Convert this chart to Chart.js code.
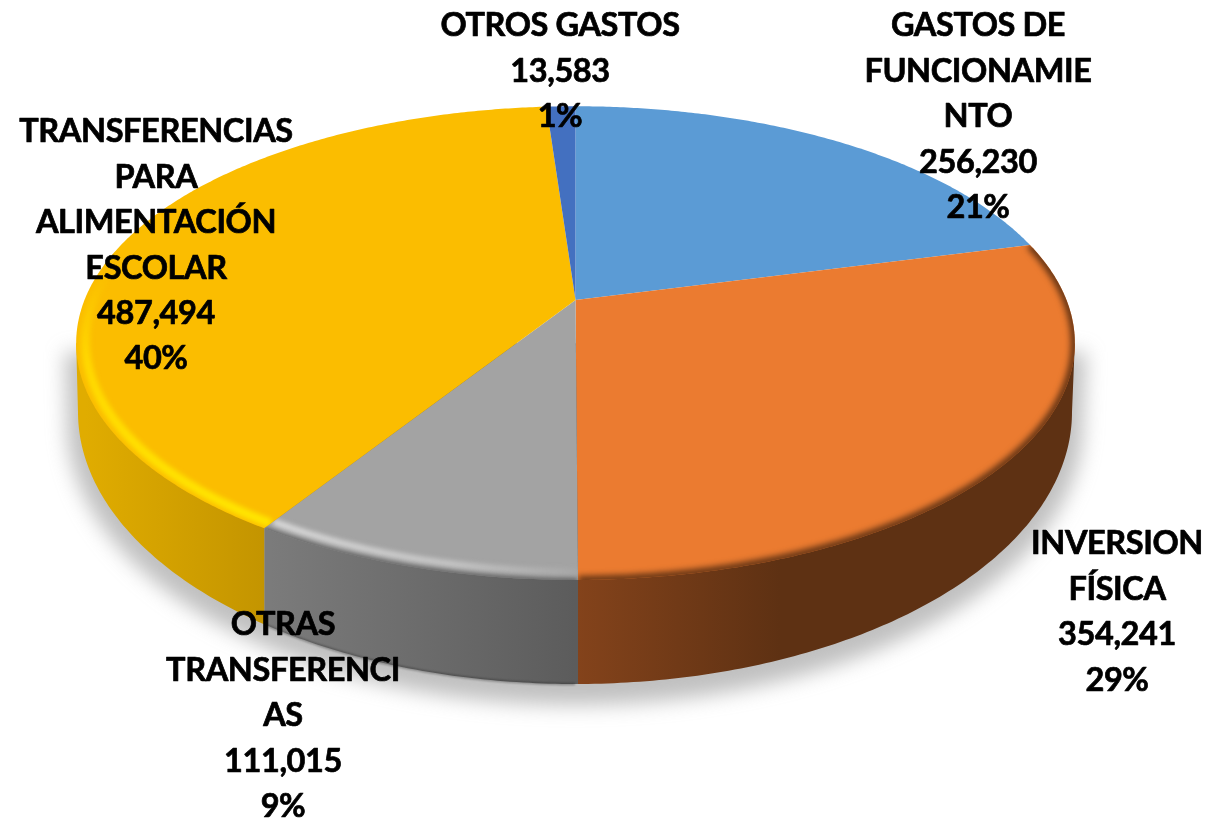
<!DOCTYPE html>
<html><head><meta charset="utf-8">
<style>html,body{margin:0;padding:0;background:#fff}canvas{display:block}</style>
<script src="https://cdn.jsdelivr.net/npm/chart.js@4"></script>
</head><body>
<canvas id="c" width="1218" height="822"></canvas>
<script>
// ---- data ----
const categories = ["GASTOS DE FUNCIONAMIENTO","INVERSION FÍSICA","OTRAS TRANSFERENCIAS","TRANSFERENCIAS PARA ALIMENTACIÓN ESCOLAR","OTROS GASTOS"];
const values = [256230,354241,111015,487494,13583];
const labelLines = [["GASTOS DE","FUNCIONAMIE","NTO"],["INVERSION","FÍSICA"],["OTRAS","TRANSFERENCI","AS"],["TRANSFERENCIAS","PARA","ALIMENTACIÓN","ESCOLAR"],["OTROS GASTOS"]];
const sliceColors = ["#5B9BD5","#EB7B30","#A3A3A3","#FBBD00","#4370C0"];
// ---- layout / style ----
const labelAnchors = [[978,26],[1117,544],[283,625],[156,132],[560,26]];
const LINE = 45.4;
const sideColors = [null,["#84431B","#5E3113",575,780],["#7B7B7B","#5C5C5C",270,575],["#E0AC00","#C39400",85,268],null];
const TOP = {cx:575.5,cy:300,A:491,B:229,k:0.182};
const BASE = {cx:575,cy:412,rx:497,ry:272};
const P = (a,r=1)=>{const x=r*Math.cos(a),y=r*Math.sin(a),d=1-TOP.k*y;return [TOP.cx+TOP.A*x/d,TOP.cy+TOP.B*y/d];};
const Q = a=>[BASE.cx+BASE.rx*Math.cos(a),BASE.cy+BASE.ry*Math.sin(a)];
const TAU=Math.PI*2;

function arcPts(a0,a1,r=1){const n=Math.max(2,Math.ceil((a1-a0)*120)),o=[];for(let i=0;i<=n;i++)o.push(P(a0+(a1-a0)*i/n,r));return o;}
function trace(ctx,pts,cont){pts.forEach((p,i)=>(i||cont)?ctx.lineTo(p[0],p[1]):ctx.moveTo(p[0],p[1]));}
function slicePath(ctx,a0,a1){ctx.beginPath();ctx.moveTo(TOP.cx,TOP.cy);trace(ctx,arcPts(a0,a1),true);ctx.closePath();}
function extremes(){const pts=arcPts(0,TAU);let L=pts[0],R=pts[0];pts.forEach(p=>{if(p[0]<L[0])L=p;if(p[0]>R[0])R=p;});return {L,R};}
function silhouette(ctx){
  const {L,R}=extremes();
  ctx.beginPath();
  ctx.moveTo(L[0],L[1]);
  for(let i=0;i<=240;i++){const a=Math.PI-Math.PI*i/240,q=Q(a);ctx.lineTo(q[0],q[1]);}
  ctx.lineTo(R[0],R[1]);
  ctx.closePath();
}
function hasAngle(a,a0,a1){for(let t=a;t<=a1+TAU;t+=TAU){if(t>=a0&&t<=a1)return true;}for(let t=a-TAU;t>=a0-TAU;t-=TAU){if(t>=a0&&t<=a1)return true;}return false;}

const pie3d = {
  id:'pie3d',
  beforeDatasetDraw(chart,args){
    const ctx=chart.ctx, arcs=chart.getDatasetMeta(args.index).data;
    // soft ground shadow
    ctx.save();
    ctx.filter='blur(10px)';ctx.fillStyle='rgba(130,130,130,.5)';
    ctx.translate(575,412);ctx.scale(1.022,1.035);ctx.translate(-575,-412);
    ctx.translate(0,11);silhouette(ctx);ctx.fill();
    ctx.restore();
    // side walls
    arcs.forEach((el,i)=>{
      const sc=sideColors[i]; if(!sc) return;
      const a0=el.startAngle,a1=el.endAngle;
      const xs=arcPts(Math.max(a0,0),Math.min(a1,Math.PI)).map(p=>p[0]);
      let xmin=Math.min(...xs),xmax=Math.max(...xs);
      if(hasAngle(0,a0,a1)) xmax=chart.width;
      if(hasAngle(Math.PI,a0,a1)) xmin=0;
      ctx.save();
      ctx.beginPath();ctx.rect(xmin,0,xmax-xmin,chart.height);ctx.clip();
      const g=ctx.createLinearGradient(sc[2],0,sc[3],0);g.addColorStop(0,sc[0]);g.addColorStop(1,sc[1]);
      ctx.fillStyle=g;silhouette(ctx);ctx.fill();
      ctx.restore();
    });
    // dark rim at the base of the wall
    ctx.save();
    ctx.beginPath();ctx.rect(268,0,chart.width,chart.height);ctx.clip();
    ctx.beginPath();for(let i=0;i<=120;i++){const q=Q(Math.PI*.5+Math.PI*.35*i/120);i?ctx.lineTo(q[0],q[1]):ctx.moveTo(q[0],q[1]);}
    ctx.strokeStyle='rgba(30,30,30,.45)';ctx.lineWidth=2;ctx.filter='blur(1px)';ctx.stroke();
    ctx.restore();
    // top faces, straight from the library's computed angles
    arcs.forEach((el,i)=>{
      slicePath(ctx,el.startAngle,el.endAngle);
      ctx.fillStyle=el.options.backgroundColor;ctx.fill();
    });
    // bevels
    arcs.forEach((el,i)=>{
      const a0=el.startAngle,a1=el.endAngle;
      ctx.save();
      slicePath(ctx,a0,a1);ctx.clip();
      ctx.lineCap='butt';
      if(i===1){
        ctx.beginPath();trace(ctx,arcPts(a0,a1,1));
        ctx.strokeStyle='#5E3113';ctx.lineWidth=8;ctx.filter='blur(3px)';ctx.stroke();
      }
      if(i===2){
        const g=ctx.createLinearGradient(268,0,575,0);g.addColorStop(0,'#DEDEDE');g.addColorStop(.6,'#C8C8C8');g.addColorStop(1,'#A8A8A8');
        ctx.beginPath();trace(ctx,arcPts(a0,a1,.975));
        ctx.strokeStyle=g;ctx.lineWidth=6;ctx.filter='blur(2.5px)';ctx.stroke();
        ctx.beginPath();trace(ctx,arcPts(a0,a1,1.002));
        ctx.strokeStyle='rgba(90,90,90,.9)';ctx.lineWidth=5;ctx.filter='blur(2px)';ctx.stroke();
      }
      if(i===3){
        const g=ctx.createLinearGradient(0,270,0,530);g.addColorStop(0,'rgba(255,216,0,0)');g.addColorStop(.35,'#FFD800');g.addColorStop(1,'#FFE600');
        ctx.beginPath();trace(ctx,arcPts(a0,a1,.982));
        ctx.strokeStyle=g;ctx.lineWidth=9;ctx.filter='blur(2.5px)';ctx.stroke();
      }
      ctx.restore();
    });
    return false;
  },
  afterDatasetsDraw(chart){
    const ctx=chart.ctx,total=values.reduce((a,b)=>a+b,0);
    ctx.save();
    ctx.font='bold 32.5px Lato, Carlito, sans-serif';
    ctx.letterSpacing='-0.4px';
    ctx.fillStyle='#000';ctx.strokeStyle='#000';ctx.lineWidth=0.7;ctx.lineJoin='round';
    ctx.textAlign='center';ctx.textBaseline='middle';
    labelLines.forEach((lines,i)=>{
      const all=[...lines,values[i].toLocaleString('en-US'),Math.round(values[i]/total*100)+'%'];
      all.forEach((t,j)=>{const y=labelAnchors[i][1]+j*LINE;ctx.fillText(t,labelAnchors[i][0],y);ctx.strokeText(t,labelAnchors[i][0],y);});
    });
    ctx.restore();
  }
};

new Chart(document.getElementById('c'),{
  type:'pie',
  data:{labels:categories,datasets:[{data:values,backgroundColor:sliceColors,borderWidth:0}]},
  options:{responsive:false,animation:false,events:[],layout:{padding:0},
    plugins:{legend:{display:false},tooltip:{enabled:false},title:{display:false}}},
  plugins:[pie3d]
});
</script>
</body></html>
